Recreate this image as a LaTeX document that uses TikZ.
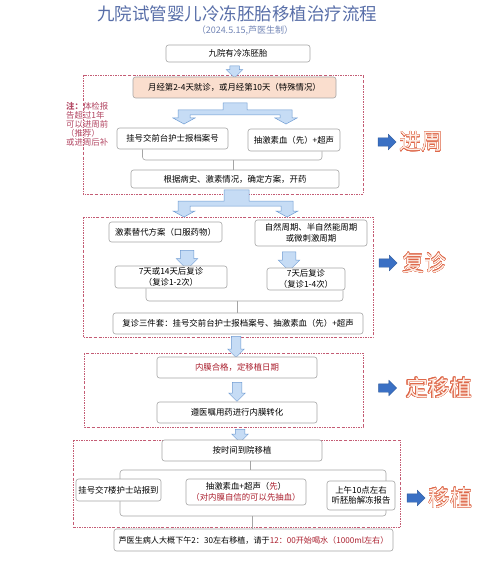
\documentclass[tikz,border=0pt]{standalone}
\usepackage{fontspec}
\setmainfont{Noto Sans CJK SC}
\usepackage{contour}
\contourlength{0.35pt}
\usetikzlibrary{shapes.arrows,positioning}

\definecolor{titleblue}{RGB}{88,110,168}
\definecolor{framered}{RGB}{196,92,116}
\definecolor{boxline}{RGB}{165,165,165}
\definecolor{peach}{RGB}{250,222,206}
\definecolor{flowfill}{RGB}{198,220,245}
\definecolor{flowline}{RGB}{110,155,210}
\definecolor{sideblue}{RGB}{58,112,196}
\definecolor{redtxt}{RGB}{170,30,45}
\definecolor{notered}{RGB}{178,70,98}
\definecolor{labelline}{RGB}{222,104,74}
\definecolor{labelfill}{RGB}{254,240,232}

\begin{document}
\begin{tikzpicture}[x=1pt, y=-1pt,
    stepbox/.style={rectangle, rounded corners=2.5pt, draw=boxline, fill=white, line width=0.6pt, align=center, inner sep=1pt, font=\fontsize{8.4}{10.5}\selectfont},
    phase/.style={draw=framered, line width=0.6pt, dash pattern=on 2pt off 1.2pt on 0.5pt off 1.2pt},
    flow/.style={single arrow, rotate=-90, draw=flowline, fill=flowfill, line width=0.5pt, inner sep=0pt, single arrow head indent=0pt},
    sidearrow/.style={single arrow, draw=sideblue!80!black, fill=sideblue, inner sep=0pt, inner ysep=4pt, minimum height=18pt, single arrow head extend=3.5pt, single arrow head indent=0pt},
    sidelabel/.style={inner sep=0pt, font=\fontsize{22}{22}\selectfont},
    note/.style={align=left, inner sep=0pt, text=notered, font=\fontsize{8.4}{8.9}\selectfont},
    bracket/.style={draw=boxline, line width=0.6pt, rounded corners=3pt}
]
\useasboundingbox (0,0) rectangle (500,569);

% Title
\node[font=\fontsize{17.5}{20}\selectfont, text=titleblue] (title) at (237,14) {九院试管婴儿冷冻胚胎移植治疗流程};
\node[font=\fontsize{9}{10}\selectfont, text=titleblue!85] (sub) at (245,31) {（2024.5.15,芦医生制）};

% Phase frames
\draw[phase] (83,75) rectangle (363,194);
\draw[phase] (83,217) rectangle (373,337);
\draw[phase] (84,353) rectangle (363,427);
\draw[phase] (73,440) rectangle (400,527);

% Transfer day bracket (behind the boxes)
\coordinate (t1) at (250,470);
\coordinate (t2) at (252,516);
\draw[bracket] (120,470) rectangle (386,516);

% Start
\node[stepbox, minimum width=144pt, minimum height=17pt] (b0) at (238,53.5) {九院有冷冻胚胎};
\node[flow, minimum height=12pt, inner ysep=4.5pt, single arrow head extend=3.5pt] (f0) at (234.5,69.5) {};

% Cycle start
\node[stepbox, fill=peach, minimum width=203pt, minimum height=21pt] (b1) at (234.5,87.5) {月经第2-4天就诊，或月经第10天（特殊情况）};
\draw[draw=flowline, fill=flowfill, line width=0.5pt] (223,103) -- (247,103) -- (247,110) -- (292,110) -- (292,118) -- (297,118) -- (286,124) -- (275,118) -- (280,118) -- (280,115) -- (190,115) -- (190,118) -- (195,118) -- (184,124) -- (173,118) -- (178,118) -- (178,110) -- (223,110) -- cycle;
\node[stepbox, minimum width=111pt, minimum height=21pt] (b2a) at (172.5,138.5) {挂号交前台护士报档案号};
\node[stepbox, minimum width=92pt, minimum height=22pt] (b2b) at (294,140) {抽激素血（先）+超声};
\node[stepbox, minimum width=208pt, minimum height=18pt] (b3) at (235,179) {根据病史、激素情况，确定方案，开药};
\coordinate (j1) at (233,160);
\draw[bracket] ([xshift=-30pt]b2a.south) -- ([xshift=-30pt]b2a.south |- j1) -- ([xshift=28pt]b2b.south |- j1) -- ([xshift=28pt]b2b.south);
\draw[bracket] (j1) -- (b3.north -| j1);
\node[note, anchor=north west] (note) at (66,102) {\textbf{注：}体检报\\告超过1年\\可以进周前\\（推荐）\\或进周后补};

% Follow-up visits
\draw[draw=flowline, fill=flowfill, line width=0.5pt] (224,190) -- (249,190) -- (249,201) -- (293,201) -- (293,211) -- (298,211) -- (287,217) -- (276,211) -- (281,211) -- (281,206) -- (190,206) -- (190,211) -- (195,211) -- (184,217) -- (173,211) -- (178,211) -- (178,201) -- (224,201) -- cycle;
\node[stepbox, minimum width=113pt, minimum height=20pt] (b4a) at (165.5,232) {激素替代方案（口服药物）};
\node[stepbox, minimum width=112pt, minimum height=26pt] (b4b) at (311,233) {自然周期、半自然能周期\\或微刺激周期};
\node[flow, minimum height=19pt, inner ysep=6.5pt, single arrow head extend=4pt] (fl) at (187,256.5) {};
\node[flow, minimum height=19pt, inner ysep=6.5pt, single arrow head extend=4pt] (fr) at (289,258) {};
\node[stepbox, minimum width=112pt, minimum height=22pt] (b5a) at (171,277) {7天或14天后复诊\\（复诊1-2次）};
\node[stepbox, minimum width=78pt, minimum height=22pt] (b5b) at (306,279) {7天后复诊\\（复诊1-4次）};
\node[stepbox, minimum width=250pt, minimum height=21pt] (b6) at (238,323.5) {复诊三件套：挂号交前台护士报档案号、抽激素血（先）+超声};
\coordinate (j2) at (237,301);
\draw[bracket] ([xshift=-25pt]b5a.south) -- ([xshift=-25pt]b5a.south |- j2) -- ([xshift=37pt]b5b.south |- j2) -- ([xshift=37pt]b5b.south);
\draw[bracket] (j2) -- (b6.north -| j2);

% Transfer date
\node[flow, minimum height=21pt, inner ysep=4.5pt, single arrow head extend=3.5pt] (f6) at (236,344.5) {};
\node[stepbox, text=redtxt, minimum width=160pt, minimum height=21pt] (b7) at (237,367.5) {内膜合格，定移植日期};
\node[flow, minimum height=19pt, inner ysep=4.5pt, single arrow head extend=3.5pt] (f7) at (237,389.5) {};
\node[stepbox, minimum width=160pt, minimum height=21pt] (b8) at (237,412.5) {遵医嘱用药进行内膜转化};
\node[flow, minimum height=13pt, inner ysep=4.5pt, single arrow head extend=3.5pt] (f8) at (240,433.5) {};

% Transfer day
\node[stepbox, minimum width=160pt, minimum height=21pt] (b9) at (242,450.5) {按时间到院移植};
\node[stepbox, minimum width=85pt, minimum height=22pt] (b10a) at (118.5,490) {挂号交7楼护士站报到};
\node[stepbox, minimum width=120pt, minimum height=26pt] (b10b) at (246,492) {抽激素血+超声（\textcolor{redtxt}{先}）\\\textcolor{redtxt}{（对内膜自信的可以先抽血）}};
\node[stepbox, minimum width=68pt, minimum height=29pt] (b10c) at (361,495.5) {上午10点左右\\听胚胎解冻报告};
\node[stepbox, minimum width=279pt, minimum height=22pt, font=\fontsize{8.1}{10}\selectfont] (b11) at (253.5,540) {芦医生病人大概下午2：30左右移植，请于\textcolor{redtxt}{12：00开始喝水（1000ml左右）}};
\draw[bracket] (b9.south -| t1) -- (t1);
\draw[bracket] (t2) -- (b11.north -| t2);

% Phase labels
\node[sidearrow] (s1) at (385,142) {};
\node[sidelabel, right=3pt of s1] (l1) {\contour{labelline}{\textcolor{labelfill}{进周}}};
\node[sidearrow] (s2) at (386,263) {};
\node[sidelabel, right=5pt of s2] (l2) {\contour{labelline}{\textcolor{labelfill}{复诊}}};
\node[sidearrow] (s3) at (385.5,388) {};
\node[sidelabel, right=9pt of s3] (l3) {\contour{labelline}{\textcolor{labelfill}{定移植}}};
\node[sidearrow] (s4) at (414,498) {};
\node[sidelabel, right=3pt of s4] (l4) {\contour{labelline}{\textcolor{labelfill}{移植}}};
\end{tikzpicture}
\end{document}
